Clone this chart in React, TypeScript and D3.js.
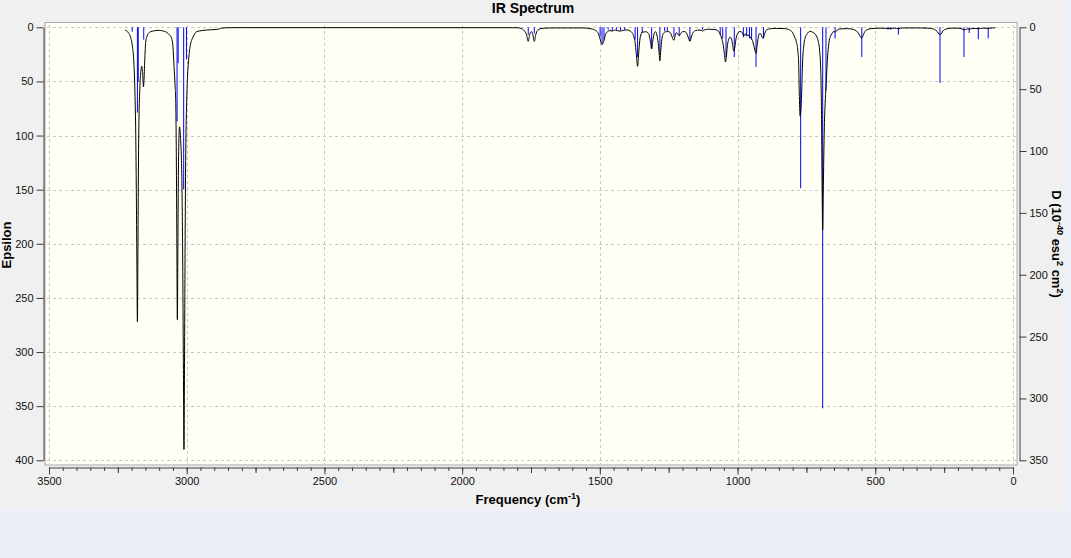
import React, { useEffect, useRef } from "react";
import * as d3 from "d3";

const W = 1071;
const H = 558;

// broadened spectrum: [frequency (cm-1), epsilon]
const spectrum: [number, number][] = [
  [3224, 2.5], [3212, 5], [3204, 9], [3197, 18], [3192, 32], [3188, 60], [3185, 100],
  [3183, 150], [3181, 215], [3179, 272], [3177, 200], [3175, 120], [3173, 80], [3170, 55],
  [3167, 42], [3163, 36], [3160, 42], [3157, 55], [3155, 48], [3152, 28], [3149, 14],
  [3144, 8], [3139, 5.5], [3130, 4], [3121, 3.4], [3103, 2.8], [3088, 3.3], [3073, 4.6],
  [3063, 7], [3055, 10], [3050, 18], [3046, 36], [3042, 55], [3040, 67], [3038, 110],
  [3036, 190], [3034, 270], [3032, 200], [3030, 130], [3028, 100], [3026, 92], [3023, 100],
  [3020, 115], [3018, 135], [3015, 200], [3012, 316], [3010, 390], [3008, 310], [3006, 209],
  [3004, 130], [3002, 90], [3000, 67], [2997, 45], [2994, 33], [2988, 18], [2982, 12],
  [2973, 7], [2964, 4], [2945, 3], [2928, 2.5], [2891, 2], [2878, 1.2], [2873, 0.8],
  [2850, 0.4], [2800, 0.3], [1800, 0.4], [1785, 1.2], [1775, 3], [1766, 7], [1760, 13],
  [1755, 7], [1749, 4], [1744, 6], [1738, 13], [1733, 7], [1725, 2.5], [1710, 1],
  [1680, 0.6], [1560, 0.6], [1530, 1.5], [1515, 3], [1505, 6], [1499, 11], [1492, 16],
  [1486, 13], [1480, 7], [1472, 4], [1463, 3], [1455, 3.5], [1447, 2.5], [1438, 3],
  [1425, 3.5], [1410, 2.5], [1398, 2.5], [1390, 3.5], [1383, 5], [1376, 9], [1372, 14],
  [1368, 24], [1363, 36], [1359, 24], [1355, 12], [1350, 6], [1345, 4], [1340, 4.5],
  [1333, 4], [1326, 5], [1320, 8], [1316, 14], [1312, 20], [1308, 13], [1303, 6],
  [1298, 4], [1293, 7], [1288, 15], [1284, 26], [1282, 31], [1279, 22], [1275, 11],
  [1270, 6], [1265, 4.5], [1258, 4], [1250, 4], [1242, 6], [1236, 10], [1231, 12],
  [1227, 8], [1222, 5], [1217, 6], [1212, 8], [1207, 6], [1200, 4], [1192, 4],
  [1184, 6], [1178, 10], [1173, 13], [1168, 9], [1162, 5], [1152, 3], [1140, 2.5],
  [1132, 2.8], [1127, 3.5], [1121, 2.5], [1105, 1.8], [1085, 2], [1072, 3], [1064, 6],
  [1058, 10], [1053, 15], [1048, 24], [1044, 32], [1041, 28], [1037, 17], [1032, 11],
  [1027, 9], [1023, 10], [1018, 16], [1014, 22], [1011, 20], [1006, 11], [1000, 6],
  [994, 4], [987, 4], [981, 6], [977, 8], [972, 6], [967, 8], [962, 7], [957, 8],
  [951, 10], [945, 13], [940, 18], [936, 22], [933, 24], [930, 19], [926, 11], [921, 6],
  [916, 6], [911, 9], [907, 10], [903, 7], [897, 3], [885, 1.5], [860, 1], [830, 1.2],
  [815, 2], [807, 3], [800, 5], [793, 9], [786, 14], [781, 22], [778, 35], [776, 60],
  [773, 82], [770, 76], [767, 58], [764, 32], [760, 18], [755, 10], [747, 6], [737, 3.7],
  [728, 4.5], [719, 6], [712, 9], [707, 13], [702, 22], [698, 40], [695, 85], [693, 150],
  [691, 187], [689, 155], [687, 120], [685, 92], [682, 70], [679, 55], [676, 40],
  [674, 30], [670, 18], [667, 12], [662, 8], [658, 6], [652, 4], [646, 4.5], [640, 3],
  [630, 1.5], [600, 1.2], [580, 2], [568, 3.5], [560, 6], [554, 9], [549, 10], [545, 8],
  [540, 5], [532, 2.5], [515, 1.2], [480, 0.8], [455, 1], [445, 1], [430, 0.8],
  [416, 1.2], [400, 0.6], [330, 0.6], [300, 1], [285, 2], [275, 4], [268, 6.5], [265, 7],
  [261, 6], [255, 3.5], [245, 1.8], [225, 0.8], [200, 0.8], [185, 1.5], [178, 2.5],
  [172, 2], [165, 1.5], [159, 1.8], [150, 1.2], [135, 1], [126, 1.3], [110, 0.8],
  [90, 1], [75, 0.6], [65, 0.5],
];

// stick lines (right axis)
const stickFreq = [
  3198, 3179, 3176, 3156, 3035, 3031, 3011, 3001, 1760, 1738, 1499, 1492, 1485, 1470,
  1455, 1440, 1425, 1410, 1372, 1363, 1346, 1312, 1282, 1265, 1255, 1231, 1212, 1173,
  1127, 1063, 1054, 1042, 1012, 979, 967, 957, 949, 933, 906, 771, 691, 679, 646, 549,
  454, 444, 416, 319, 265, 178, 159, 126, 90,
];
const stickD = [
  3.5, 69, 44, 10, 76, 29, 131, 26, 6, 5, 7.6, 13, 10, 2, 3, 2, 2.5, 2, 10, 24, 4.6,
  17.5, 22, 3, 3, 7.6, 6.2, 11, 2, 6, 9, 24, 24, 8, 7, 9, 10, 32, 9, 130, 308, 51, 9,
  24, 2, 2, 6, 1, 45, 24, 4.6, 9.7, 8.9,
];

const xTicks = [3500, 3000, 2500, 2000, 1500, 1000, 500, 0];
const epsTicks = [0, 50, 100, 150, 200, 250, 300, 350, 400];
const dTicks = [0, 50, 100, 150, 200, 250, 300, 350];

const FONT = "'Liberation Sans', Arial, sans-serif";

export default function App() {
  const ref = useRef<SVGSVGElement>(null);

  useEffect(() => {
    const svg = d3.select(ref.current);
    svg.selectAll("*").remove();

    const frame = { left: 45, right: 1017, top: 22.5, bottom: 465 };

    const x = d3.scaleLinear().domain([3500, 0]).range([49, 1013]);
    const yL = d3.scaleLinear().domain([0, 400]).range([27.3, 460.3]);
    const yR = d3.scaleLinear().domain([0, 350]).range([27.3, 460.3]);

    // window backgrounds
    svg.append("rect").attr("width", W).attr("height", H).attr("fill", "#ebeff8");
    svg.append("rect").attr("width", 1066).attr("height", 510).attr("fill", "#f0f0f0");

    // plot area
    svg.append("rect")
      .attr("x", frame.left)
      .attr("y", frame.top)
      .attr("width", frame.right - frame.left)
      .attr("height", frame.bottom - frame.top)
      .attr("fill", "#fffff5")
      .attr("stroke", "#a8a8a8");

    // grid
    const grid = svg.append("g")
      .attr("stroke", "#c8c8c8")
      .attr("stroke-dasharray", "3,3")
      .attr("shape-rendering", "crispEdges");
    grid.selectAll("line.v")
      .data(xTicks)
      .join("line")
      .attr("x1", d => Math.round(x(d)) + 0.5)
      .attr("x2", d => Math.round(x(d)) + 0.5)
      .attr("y1", frame.top + 2)
      .attr("y2", frame.bottom - 1);
    grid.selectAll("line.h")
      .data(epsTicks)
      .join("line")
      .attr("x1", frame.left + 2)
      .attr("x2", frame.right - 1)
      .attr("y1", d => Math.round(yL(d)) + 0.5)
      .attr("y2", d => Math.round(yL(d)) + 0.5);

    // sticks
    svg.append("g")
      .attr("stroke", "#0000ff")
      .attr("stroke-width", 1)
      .selectAll("line")
      .data(stickFreq.map((f, i) => ({ f, d: stickD[i] })))
      .join("line")
      .attr("x1", d => x(d.f))
      .attr("x2", d => x(d.f))
      .attr("y1", yR(0))
      .attr("y2", d => yR(d.d));

    // spectrum curve
    const line = d3.line<[number, number]>()
      .x(d => x(d[0]))
      .y(d => yL(d[1]))
      .curve(d3.curveMonotoneX);
    svg.append("path")
      .datum(spectrum)
      .attr("fill", "none")
      .attr("stroke", "#000")
      .attr("stroke-width", 1)
      .attr("d", line);

    const styleAxis = (g: any) => {
      g.selectAll(".domain").attr("stroke", "#3c3c3c");
      g.selectAll(".tick line").attr("stroke", "#3c3c3c");
      g.selectAll("text")
        .attr("font-family", FONT)
        .attr("font-size", 11)
        .attr("fill", "#111");
    };

    // left axis
    svg.append("g")
      .attr("transform", "translate(43.5,0)")
      .call(d3.axisLeft(yL).tickValues(epsTicks).tickSize(7).tickSizeOuter(0).tickPadding(3))
      .call(styleAxis);

    // right axis
    svg.append("g")
      .attr("transform", "translate(1019.5,0)")
      .call(d3.axisRight(yR).tickValues(dTicks).tickSize(7).tickSizeOuter(0).tickPadding(3))
      .call(styleAxis);

    // bottom axis: minor, medium, major ticks
    const bottom = svg.append("g").attr("transform", "translate(0,467.5)");
    bottom.append("g")
      .call(d3.axisBottom(x).tickValues(d3.range(0, 3501, 50)).tickSize(3.5).tickSizeOuter(0).tickFormat(() => ""))
      .call(styleAxis);
    bottom.append("g")
      .call(d3.axisBottom(x).tickValues(d3.range(250, 3500, 500)).tickSize(5.5).tickSizeOuter(0).tickFormat(() => ""))
      .call(styleAxis)
      .call(g => g.select(".domain").remove());
    bottom.append("g")
      .call(d3.axisBottom(x).tickValues(xTicks).tickSize(7).tickSizeOuter(0).tickPadding(3).tickFormat(d3.format("d")))
      .call(styleAxis)
      .call(g => g.select(".domain").remove());

    // title
    svg.append("text")
      .attr("x", 533)
      .attr("y", 13)
      .attr("text-anchor", "middle")
      .attr("font-family", FONT)
      .attr("font-weight", "bold")
      .attr("font-size", 14)
      .text("IR Spectrum");

    // x label
    const xl = svg.append("text")
      .attr("x", 528)
      .attr("y", 504)
      .attr("text-anchor", "middle")
      .attr("font-family", FONT)
      .attr("font-weight", "bold")
      .attr("font-size", 13);
    xl.append("tspan").text("Frequency (cm");
    xl.append("tspan").attr("dy", -5).attr("font-size", 9).text("-1");
    xl.append("tspan").attr("dy", 5).text(")");

    // left label
    svg.append("text")
      .attr("transform", "translate(11,245) rotate(-90)")
      .attr("text-anchor", "middle")
      .attr("font-family", FONT)
      .attr("font-weight", "bold")
      .attr("font-size", 13)
      .text("Epsilon");

    // right label
    const rl = svg.append("text")
      .attr("transform", "translate(1052,244) rotate(90)")
      .attr("text-anchor", "middle")
      .attr("font-family", FONT)
      .attr("font-weight", "bold")
      .attr("font-size", 13);
    rl.append("tspan").text("D (10");
    rl.append("tspan").attr("dy", -5).attr("font-size", 9).text("-40");
    rl.append("tspan").attr("dy", 5).text(" esu");
    rl.append("tspan").attr("dy", -5).attr("font-size", 9).text("2");
    rl.append("tspan").attr("dy", 5).text(" cm");
    rl.append("tspan").attr("dy", -5).attr("font-size", 9).text("2");
    rl.append("tspan").attr("dy", 5).text(")");
  }, []);

  return (
    <svg
      ref={ref}
      width={W}
      height={H}
      style={{ position: "absolute", left: 0, top: 0 }}
    />
  );
}
